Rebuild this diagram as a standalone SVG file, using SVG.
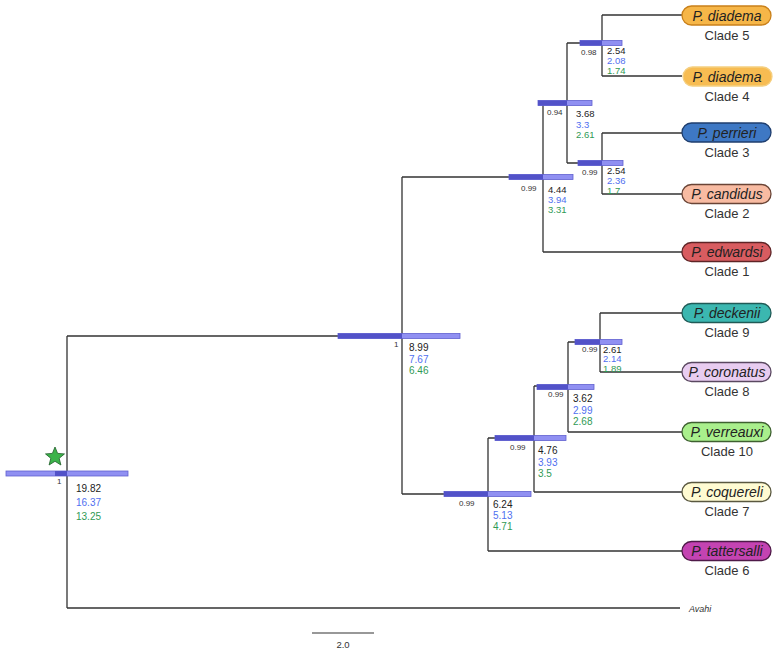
<svg xmlns="http://www.w3.org/2000/svg" width="781" height="656" viewBox="0 0 781 656">
<style>
.br{fill:none;stroke:#333;stroke-width:1.3}
.bar{fill:#9090f2;stroke:#6060d0;stroke-width:0.8}
.bard{fill:#5252c8;stroke:none}
.v{font-family:"Liberation Sans",Arial,sans-serif;font-size:10px}
.v2{font-family:"Liberation Sans",Arial,sans-serif;font-size:9.5px}
.k{fill:#222}.b{fill:#4f6ff0}.g{fill:#2f9a55}
.s{font-family:"Liberation Sans",Arial,sans-serif;font-size:8px;fill:#333}
.sp{font-family:"Liberation Sans",Arial,sans-serif;font-size:14px;font-style:italic;fill:#222;text-anchor:middle}
.cl{font-family:"Liberation Sans",Arial,sans-serif;font-size:13px;fill:#333;text-anchor:middle}
.pill{stroke-width:1.3}
</style>
<rect width="781" height="656" fill="#fff"/>
<g id="connectors">
<path class="br" d="M67,336V608M67,336H402M67,608H680"/>
<path class="br" d="M402,177V494M402,177H543M402,494H488"/>
<path class="br" d="M543,103V252M543,103H567M543,252H682"/>
<path class="br" d="M567,43V163M567,43H602M567,163H602"/>
<path class="br" d="M602,15V76M602,15H682M602,76H682"/>
<path class="br" d="M602,133V194M602,133H682M602,194H682"/>
<path class="br" d="M488,438V551M488,438H534M488,551H682"/>
<path class="br" d="M534,386V492M534,386H568M534,492H682"/>
<path class="br" d="M568,342V432M568,342H600M568,432H682"/>
<path class="br" d="M600,313V372M600,313H682M600,372H682"/>
</g>
<g id="bars">
<rect class="bar" x="6" y="471" width="122" height="5"/><rect class="bard" x="55" y="471" width="12" height="5"/>
<rect class="bar" x="338" y="333.5" width="122" height="5"/><rect class="bard" x="338" y="333.5" width="64" height="5"/>
<rect class="bar" x="509" y="174.5" width="64" height="5"/><rect class="bard" x="509" y="174.5" width="34" height="5"/>
<rect class="bar" x="538" y="100.5" width="54" height="5"/><rect class="bard" x="538" y="100.5" width="29" height="5"/>
<rect class="bar" x="580" y="40.5" width="42" height="5"/><rect class="bard" x="580" y="40.5" width="22" height="5"/>
<rect class="bar" x="578" y="160.5" width="45" height="5"/><rect class="bard" x="578" y="160.5" width="24" height="5"/>
<rect class="bar" x="444" y="491.5" width="87" height="5"/><rect class="bard" x="444" y="491.5" width="44" height="5"/>
<rect class="bar" x="495" y="435.5" width="71" height="5"/><rect class="bard" x="495" y="435.5" width="39" height="5"/>
<rect class="bar" x="537" y="384.5" width="57" height="5"/><rect class="bard" x="537" y="384.5" width="31" height="5"/>
<rect class="bar" x="575" y="339.5" width="47" height="5"/><rect class="bard" x="575" y="339.5" width="25" height="5"/>
</g>
<g id="root">
<polygon points="55,447 57.6,453.4 64.5,453.9 59.2,458.3 60.9,465 55,461.3 49.1,465 50.8,458.3 45.5,453.9 52.4,453.4" fill="#3cb34a" stroke="#1e5e28" stroke-width="0.8"/>
<text class="s" x="57" y="484">1</text>
<text class="v k" x="76" y="492">19.82</text><text class="v b" x="76" y="506">16.37</text><text class="v g" x="76" y="520">13.25</text>
</g>
<g id="nodeA">
<text class="s" x="394" y="347">1</text>
<text class="v k" x="409" y="351">8.99</text><text class="v b" x="409" y="362.5">7.67</text><text class="v g" x="409" y="374">6.46</text>
</g>
<g id="nodeB">
<text class="s" x="521" y="191">0.99</text>
<text class="v2 k" x="548" y="193">4.44</text><text class="v2 b" x="548" y="203">3.94</text><text class="v2 g" x="548" y="213">3.31</text>
</g>
<g id="nodeC">
<text class="s" x="547" y="115">0.94</text>
<text class="v2 k" x="576" y="117">3.68</text><text class="v2 b" x="576" y="127.5">3.3</text><text class="v2 g" x="576" y="138">2.61</text>
</g>
<g id="nodeD">
<text class="s" x="581" y="55">0.98</text>
<text class="v2 k" x="607" y="54">2.54</text><text class="v2 b" x="607" y="64">2.08</text><text class="v2 g" x="607" y="74">1.74</text>
</g>
<g id="nodeE">
<text class="s" x="582" y="175">0.99</text>
<text class="v2 k" x="607" y="174">2.54</text><text class="v2 b" x="607" y="184">2.36</text><text class="v2 g" x="607" y="194">1.7</text>
</g>
<g id="nodeF">
<text class="s" x="459" y="506">0.99</text>
<text class="v k" x="493" y="508">6.24</text><text class="v b" x="493" y="519">5.13</text><text class="v g" x="493" y="530">4.71</text>
</g>
<g id="nodeG">
<text class="s" x="510" y="450">0.99</text>
<text class="v k" x="538" y="454">4.76</text><text class="v b" x="538" y="466">3.93</text><text class="v g" x="538" y="477">3.5</text>
</g>
<g id="nodeH">
<text class="s" x="548" y="397">0.99</text>
<text class="v k" x="573" y="402">3.62</text><text class="v b" x="573" y="413.5">2.99</text><text class="v g" x="573" y="425">2.68</text>
</g>
<g id="nodeI">
<text class="s" x="582" y="352">0.99</text>
<text class="v2 k" x="603" y="352.5">2.61</text><text class="v2 b" x="603" y="362">2.14</text><text class="v2 g" x="603" y="371.5">1.89</text>
</g>
<g id="clade5"><rect class="pill" x="682" y="6" width="89" height="19" rx="9.5" fill="#f6b648" stroke="#c9801a"/><text class="sp" x="727" y="20.5">P. diadema</text><text class="cl" x="727" y="40">Clade 5</text></g>
<g id="clade4"><rect class="pill" x="683" y="67" width="89" height="19" rx="9.5" fill="#f7bc52" stroke="#f5cf80"/><text class="sp" x="727" y="81.5">P. diadema</text><text class="cl" x="727" y="101">Clade 4</text></g>
<g id="clade3"><rect class="pill" x="682" y="123" width="89" height="19" rx="9.5" fill="#3e78c4" stroke="#1f3e6e"/><text class="sp" x="727" y="137.5">P. perrieri</text><text class="cl" x="727" y="157">Clade 3</text></g>
<g id="clade2"><rect class="pill" x="682" y="184.5" width="89" height="19" rx="9.5" fill="#f8bba2" stroke="#6a4436"/><text class="sp" x="727" y="199">P. candidus</text><text class="cl" x="727" y="218">Clade 2</text></g>
<g id="clade1"><rect class="pill" x="682" y="242.5" width="89" height="19" rx="9.5" fill="#d85c60" stroke="#5e2426"/><text class="sp" x="727" y="257">P. edwardsi</text><text class="cl" x="727" y="276">Clade 1</text></g>
<g id="clade9"><rect class="pill" x="682" y="303.5" width="89" height="19" rx="9.5" fill="#3bb7b0" stroke="#1f5a56"/><text class="sp" x="727" y="318">P. deckenii</text><text class="cl" x="727" y="337">Clade 9</text></g>
<g id="clade8"><rect class="pill" x="682" y="362.5" width="89" height="19" rx="9.5" fill="#e8ccf0" stroke="#5a4860"/><text class="sp" x="727" y="377">P. coronatus</text><text class="cl" x="727" y="396">Clade 8</text></g>
<g id="clade10"><rect class="pill" x="682" y="422.5" width="89" height="19" rx="9.5" fill="#a9ef8c" stroke="#3e6030"/><text class="sp" x="727" y="437">P. verreauxi</text><text class="cl" x="727" y="456">Clade 10</text></g>
<g id="clade7"><rect class="pill" x="682" y="482.5" width="89" height="19" rx="9.5" fill="#fffbd2" stroke="#5a5840"/><text class="sp" x="727" y="497">P. coquereli</text><text class="cl" x="727" y="516">Clade 7</text></g>
<g id="clade6"><rect class="pill" x="682" y="541.5" width="89" height="19" rx="9.5" fill="#c443b2" stroke="#4e1a48"/><text class="sp" x="727" y="556">P. tattersalli</text><text class="cl" x="727" y="575">Clade 6</text></g>
<g id="avahi"><text x="689" y="612" font-family="Liberation Sans,Arial,sans-serif" font-size="9" font-style="italic" fill="#333">Avahi</text></g>
<g id="scale"><line x1="312" y1="633" x2="374" y2="633" stroke="#333" stroke-width="1.2"/><text x="343" y="648" font-family="Liberation Sans,Arial,sans-serif" font-size="9.5" fill="#333" text-anchor="middle">2.0</text></g>
</svg>
